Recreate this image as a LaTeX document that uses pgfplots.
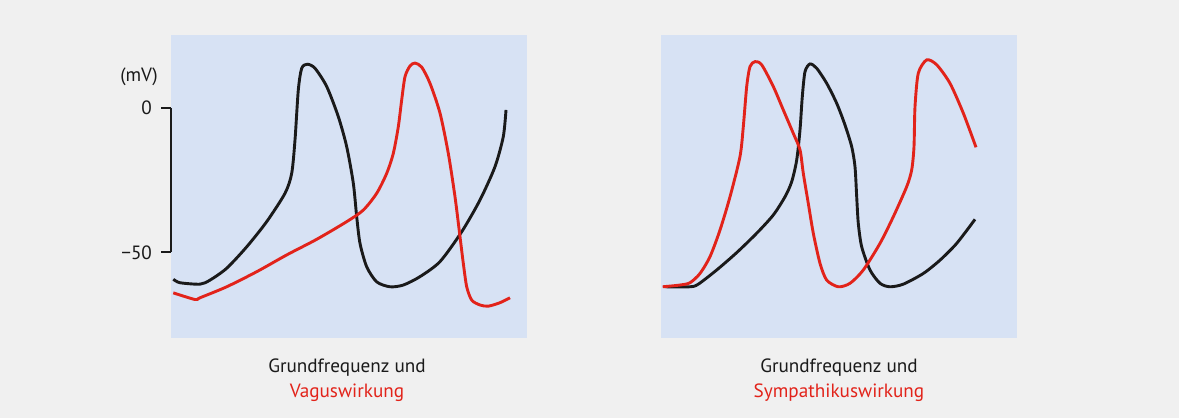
\documentclass[border=0pt]{standalone}
\usepackage{pgfplots}
\pgfplotsset{compat=1.18}
\usepackage{fontspec}
\setmainfont{PT Sans}
\definecolor{bgc}{HTML}{F0F0F0}
\definecolor{panel}{HTML}{D7E2F4}
\definecolor{rd}{HTML}{E2231A}
\definecolor{bk}{HTML}{1A1A1A}
\begin{document}
\begin{tikzpicture}[font=\fontsize{9.6}{11.5}\selectfont]
\fill[bgc] (0pt,0pt) rectangle (589.5pt,209pt);
\pgfplotsset{panelax/.style={scale only axis, width=178pt, height=151.5pt,
  ymin=-79.6, ymax=25.1, hide axis, clip=false,
  axis background/.style={fill=panel}},
  every axis plot/.append style={line width=1.45pt, smooth, tension=0.45, no marks}}
% left panel
\begin{axis}[panelax, at={(85.5pt,40pt)}, anchor=south west, xmin=171, xmax=527]
\addplot[bk] coordinates {(173.3,-59.3)(180,-60.5)(200,-61.0)(210,-59.6)(226.7,-55.5)(246.7,-48.1)(266.7,-39.4)(285,-29.6)(291.7,-22.7)(295,-11.2)(298.3,6.1)(301.7,13.6)(307.3,15.0)(315,13.6)(326.7,7.3)(338.3,-3.1)(346.7,-13.5)(353.3,-26.1)(356.7,-37.7)(360,-46.9)(366.7,-55.0)(376.7,-60.2)(390,-61.9)(403.3,-61.3)(420,-58.4)(440,-53.2)(461.7,-42.9)(480,-31.9)(495,-20.4)(503.3,-10.0)(506,-0.8)};
\addplot[rd] coordinates {(173.3,-64.0)(195,-66.3)(200,-65.7)(226.7,-61.9)(256.7,-56.7)(286.7,-50.9)(316.7,-45.5)(346.7,-39.4)(363.3,-35.4)(376.7,-29.6)(386.7,-22.7)(393.3,-15.8)(398.3,-6.6)(401.7,2.7)(405,10.7)(410,14.4)(415,15.4)(421.7,14.0)(430,8.4)(440,-1.9)(448.3,-15.8)(455,-30.8)(460,-44.6)(463.3,-53.8)(466.7,-61.9)(471.7,-66.5)(480,-68.2)(488.3,-68.6)(500,-67.4)(510,-65.7)};
\end{axis}
% scale bar
\begin{axis}[scale only axis, at={(85.5pt,82.85pt)}, anchor=south west, width=20pt, height=72.3pt,
  xmin=0, xmax=1, ymin=-50, ymax=0, axis x line=none, axis y line=left,
  axis line style={-, line width=1pt, bk}, ytick={-50,0}, yticklabels={−50,0},
  tick align=outside, major tick length=5pt, tick style={line width=1pt, bk},
  yticklabel style={font=\fontsize{9.6}{11.5}\selectfont, text=bk, xshift=-1pt},
  /pgf/number format/assume math mode=true]
\end{axis}
\node[text=bk] at (69.5pt,170.6pt) {(mV)};
% right panel
\begin{axis}[panelax, at={(330.5pt,40pt)}, anchor=south west, xmin=661, xmax=1017]
\addplot[bk] coordinates {(665,-61.9)(690,-61.9)(698.3,-61.0)(716.7,-56.1)(736.7,-50.1)(756.7,-43.4)(773.3,-37.1)(785,-30.8)(791.7,-25.6)(796.7,-18.1)(800,-7.7)(802.3,3.8)(805,12.4)(810,15.1)(816.7,13.6)(826.7,8.4)(836.7,1.5)(845,-6.0)(851.7,-13.5)(855,-20.4)(856.7,-30.8)(858.3,-40.0)(861.7,-48.1)(870,-56.1)(880,-60.7)(890,-61.9)(903.3,-61.0)(923.3,-57.3)(940,-52.7)(956.7,-46.9)(975,-38.6)};
\addplot[rd] coordinates {(662.7,-61.9)(680,-61.3)(690,-60.5)(700,-57.3)(710,-51.5)(720,-42.3)(730,-30.8)(740,-16.9)(743.3,-6.6)(746.7,7.3)(750,14.2)(755,15.9)(761.7,14.8)(773.3,7.3)(783.3,-0.8)(793.3,-8.9)(800,-14.6)(803.3,-22.7)(808.3,-33.1)(813.3,-43.4)(820,-53.8)(826.7,-59.6)(838.3,-61.9)(850,-60.7)(863.3,-56.1)(880,-46.9)(893.3,-37.7)(906.7,-27.3)(911.7,-21.5)(914,-13.5)(915,0.3)(918.3,11.9)(926.7,16.5)(936.7,14.8)(950,8.4)(963.3,-1.9)(976,-13.7)};
\end{axis}
% captions
\node[text=bk, align=center] at (173.5pt,25.3pt) {Grundfrequenz und};
\node[text=rd, align=center] at (173.5pt,12.7pt) {Vaguswirkung};
\node[text=bk, align=center] at (419.5pt,25.3pt) {Grundfrequenz und};
\node[text=rd, align=center] at (419.5pt,12.7pt) {Sympathikuswirkung};
\end{tikzpicture}
\end{document}
